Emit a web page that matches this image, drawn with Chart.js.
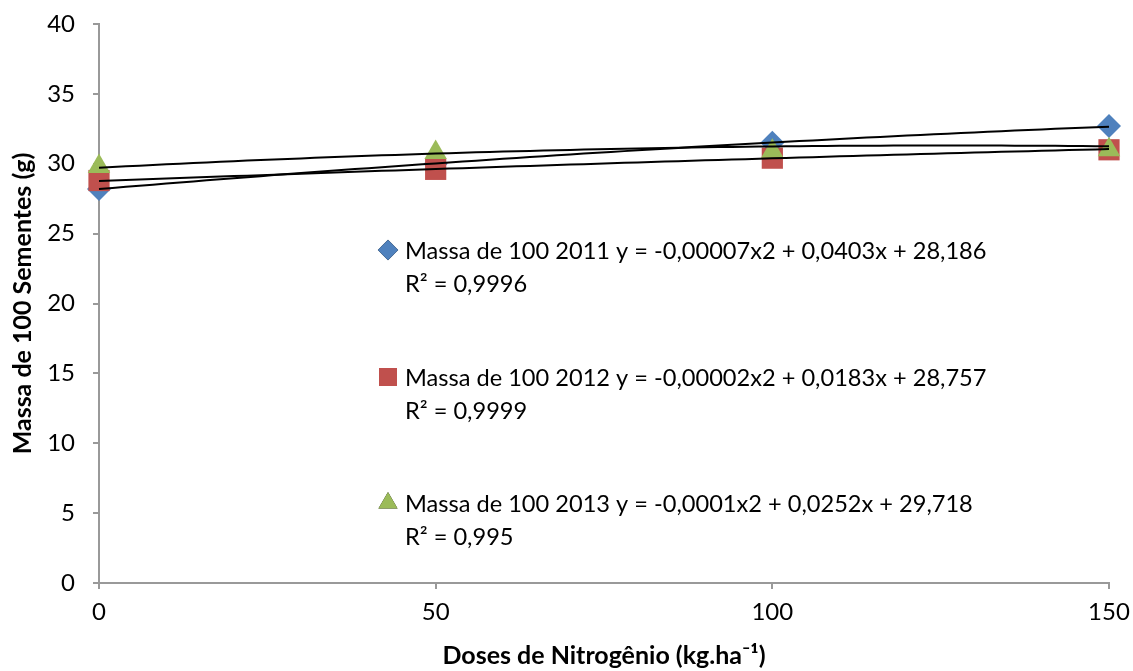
<!DOCTYPE html>
<html lang="pt-BR">
<head>
<meta charset="UTF-8">
<title>Massa de 100 Sementes</title>
<script src="https://cdn.jsdelivr.net/npm/chart.js"></script>
<style>
    body { margin: 0; background: #fff; }
    #caixa { width: 1133px; height: 671px; position: relative; }
</style>
</head>
<body>
<div id="caixa"><canvas id="grafico"></canvas></div>

<script>
    // doses de N (kg/ha)
    var doses = [0, 50, 100, 150]

    // massa de 100 sementes por ano (g)
    var massa2011 = [28.2, 30.0, 31.5, 32.7]
    var massa2012 = [28.8, 29.6, 30.4, 31.0]
    var massa2013 = [29.8, 30.8, 30.9, 31.0]

    var anos = ['2011', '2012', '2013']
    var nomeSerie = 'Massa de 100'

    // coeficientes das regressões polinomiais (y = a x² + b x + c)
    var coefA = [-0.00007, -0.00002, -0.0001]
    var coefB = [0.0403, 0.0183, 0.0252]
    var coefC = [28.186, 28.757, 29.718]
    var r2 = ['0,9996', '0,9999', '0,995']

    var ticksX = [0, 50, 100, 150]
    var ticksY = [0, 5, 10, 15, 20, 25, 30, 35, 40]

    var cores = ['#4F81BD', '#C0504D', '#9BBB59']
    var simbolos = ['rectRot', 'rect', 'triangle']
    var raios = [12, 15, 13]
    var series = [massa2011, massa2012, massa2013]

    function virgula(n) {
        return String(n).replace('.', ',')
    }

    function equacao(i) {
        return 'y = ' + virgula(coefA[i]) + 'x2 + ' + virgula(coefB[i]) + 'x + ' + virgula(coefC[i])
    }

    function curva(i) {
        var pts = []
        for (var x = doses[0]; x <= doses[doses.length - 1]; x += 2) {
            pts.push({ x: x, y: coefA[i] * x * x + coefB[i] * x + coefC[i] })
        }
        return pts
    }

    var datasets = []

    // linhas de tendência por cima dos marcadores
    for (var i = 0; i < 3; i++) {
        datasets.push({
            type: 'line',
            label: 'tendencia ' + anos[i],
            data: curva(i),
            borderColor: '#000',
            borderWidth: 2,
            pointRadius: 0,
            fill: false,
            tension: 0,
            clip: false,
            order: 0
        })
    }

    for (var i = 0; i < 3; i++) {
        datasets.push({
            type: 'scatter',
            label: nomeSerie + ' ' + anos[i],
            data: doses.map(function (d, k) { return { x: d, y: series[i][k] } }),
            backgroundColor: cores[i],
            borderColor: cores[i],
            borderWidth: 0,
            pointStyle: simbolos[i],
            pointRadius: raios[i],
            pointHoverRadius: raios[i],
            clip: false,
            order: 3 - i
        })
    }

    // legenda com as equações, dentro da área do gráfico
    var legendaEquacoes = {
        id: 'legendaEquacoes',
        afterDraw: function (chart) {
            var ctx = chart.ctx
            var linhas = [250, 377, 503]
            ctx.save()
            ctx.font = '23.6px Lato'
            ctx.fillStyle = '#000'
            ctx.textBaseline = 'middle'
            for (var i = 0; i < 3; i++) {
                Chart.helpers.drawPoint(ctx, {
                    pointStyle: simbolos[i],
                    radius: raios[i] * 0.85,
                    borderWidth: 0
                }, 388, linhas[i])
                ctx.fillStyle = cores[i]
                ctx.fill()
                ctx.fillStyle = '#000'
                ctx.fillText(nomeSerie + ' ' + anos[i] + ' ' + equacao(i), 405, linhas[i] + 1)
                ctx.fillText('R² = ' + r2[i], 405, linhas[i] + 34)
            }
            ctx.restore()
        }
    }

    Chart.defaults.font.family = 'Lato'
    Chart.defaults.color = '#000'

    new Chart(document.getElementById('grafico'), {
        data: { datasets: datasets },
        options: {
            responsive: true,
            maintainAspectRatio: false,
            animation: false,
            layout: { padding: { top: 24, right: 24, left: 0, bottom: 0 } },
            plugins: {
                legend: { display: false },
                tooltip: { enabled: false }
            },
            scales: {
                x: {
                    type: 'linear',
                    min: 0,
                    max: 150,
                    afterBuildTicks: function (s) { s.ticks = ticksX.map(function (v) { return { value: v } }) },
                    afterFit: function (s) {
                        s.height = 88
                        s.paddingLeft = 0
                        s.paddingRight = 0
                    },
                    grid: { drawOnChartArea: false, drawTicks: true, tickLength: 6, color: '#999', lineWidth: 2 },
                    border: { color: '#999', width: 2 },
                    ticks: { font: { size: 24 }, padding: 9 },
                    title: {
                        display: true,
                        text: 'Doses de Nitrogênio (kg.ha⁻¹)',
                        font: { size: 25, weight: 'bold' },
                        padding: { top: 2, bottom: 0 }
                    }
                },
                y: {
                    type: 'linear',
                    min: 0,
                    max: 40,
                    afterBuildTicks: function (s) { s.ticks = ticksY.map(function (v) { return { value: v } }) },
                    afterFit: function (s) {
                        s.width = 99
                        s.paddingTop = 0
                        s.paddingBottom = 0
                    },
                    grid: { drawOnChartArea: false, drawTicks: true, tickLength: 6, color: '#999', lineWidth: 2 },
                    border: { color: '#999', width: 2 },
                    ticks: { font: { size: 24 }, padding: 18 },
                    title: {
                        display: true,
                        text: 'Massa de 100 Sementes (g)',
                        font: { size: 25, weight: 'bold' },
                        padding: { top: 8, bottom: 0 }
                    }
                }
            }
        },
        plugins: [legendaEquacoes]
    })
</script>
</body>
</html>
